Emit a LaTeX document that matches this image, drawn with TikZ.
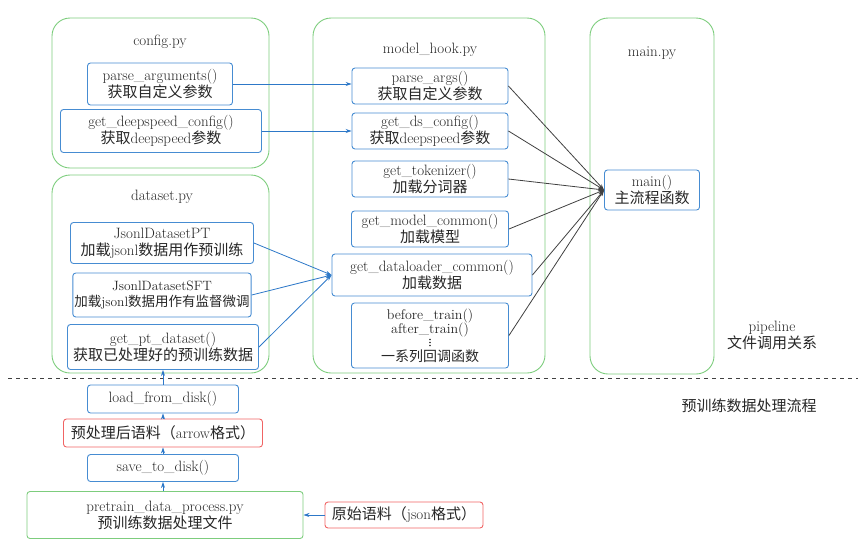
\documentclass[tikz,border=0pt]{standalone}
\usepackage{fontspec}
\newfontfamily\cjk{Noto Sans CJK SC}
\usetikzlibrary{arrows.meta}
\newcommand{\zh}[1]{{\cjk #1}}
\definecolor{filegreen}{RGB}{125,205,125}
\definecolor{funcblue}{RGB}{70,140,210}
\definecolor{datared}{RGB}{240,100,100}
\definecolor{arrowblue}{RGB}{45,120,200}

\begin{document}
\begin{tikzpicture}[x=1pt,y=-1pt,
  every node/.style = {align=center, text=black!85,
    font=\fontsize{15}{17}\selectfont, inner sep=1.5pt},
  filebox/.style = {shape=rectangle, rounded corners=18pt,
    draw=filegreen, line width=0.9pt},
  funcbox/.style = {shape=rectangle, rounded corners=3pt,
    draw=funcblue, line width=0.9pt},
  databox/.style = {shape=rectangle, rounded corners=3pt,
    draw=datared, line width=0.9pt},
  procbox/.style = {shape=rectangle, rounded corners=3pt,
    draw=filegreen, line width=0.9pt},
  bluearrow/.style = {draw=arrowblue, line width=0.8pt,
    -{Stealth[length=6pt,width=4pt]}},
  grayarrow/.style = {draw=black!75, line width=0.8pt,
    -{Stealth[length=6pt,width=4pt]}}]
  \useasboundingbox (0,0) rectangle (866,547);

  % file containers
  \node[filebox, minimum width=217, minimum height=150] (config) at (160.5,93) {};
  \node[filebox, minimum width=217, minimum height=198] (dataset) at (160.5,274) {};
  \node[filebox, minimum width=232, minimum height=355] (modelhook) at (429,195.5) {};
  \node[filebox, minimum width=124, minimum height=356] (mainfile) at (652,196) {};
  \node (configTitle) at (160,42) {config.py};
  \node (datasetTitle) at (162,197) {dataset.py};
  \node (modelhookTitle) at (430,50) {model\_hook.py};
  \node (mainTitle) at (652,53) {main.py};

  % config.py
  \node[funcbox, minimum width=145, minimum height=42] (parseArguments) at (160,84)
    {parse\_arguments()\\\zh{获取自定义参数}};
  \node[funcbox, minimum width=201, minimum height=43] (getDeepspeedConfig) at (161,131)
    {get\_deepspeed\_config()\\\zh{获取}deepspeed\zh{参数}};

  % dataset.py
  \node[funcbox, minimum width=183, minimum height=41] (jsonlPT) at (162,243)
    {JsonlDatasetPT\\\zh{加载}jsonl\zh{数据用作预训练}};
  \node[funcbox, minimum width=172, minimum height=44,
    font=\fontsize{13.5}{16}\selectfont] (jsonlSFT) at (162,295)
    {JsonlDatasetSFT\\\zh{加载}jsonl\zh{数据用作有监督微调}};
  \node[funcbox, minimum width=191, minimum height=45] (getPtDataset) at (163,347)
    {get\_pt\_dataset()\\\zh{获取已处理好的预训练数据}};

  % model_hook.py
  \node[funcbox, minimum width=156, minimum height=36] (parseArgs) at (430,86)
    {parse\_args()\\\zh{获取自定义参数}};
  \node[funcbox, minimum width=156, minimum height=36] (getDsConfig) at (430,131)
    {get\_ds\_config()\\\zh{获取}deepspeed\zh{参数}};
  \node[funcbox, minimum width=156, minimum height=36] (getTokenizer) at (430,179)
    {get\_tokenizer()\\\zh{加载分词器}};
  \node[funcbox, minimum width=157, minimum height=36] (getModelCommon) at (430,229)
    {get\_model\_common()\\\zh{加载模型}};
  \node[funcbox, minimum width=200, minimum height=42] (getDataloader) at (432,275)
    {get\_dataloader\_common()\\\zh{加载数据}};
  \node[funcbox, minimum width=157, minimum height=65,
    font=\fontsize{14}{14.5}\selectfont] (trainHooks) at (430,335.5)
    {before\_train()\\after\_train()\\[11pt]\zh{一系列回调函数}};
  \foreach \dy in {4,7,10}
    \fill[black!85] ([yshift=-\dy pt]trainHooks.center) circle (0.9pt);

  % main.py
  \node[funcbox, minimum width=95, minimum height=40] (mainFunc) at (652,190)
    {main()\\\zh{主流程函数}};
  \node (pipelineLabel) at (772,335) {pipeline\\\zh{文件调用关系}};

  % split line
  \coordinate (splitL) at (8,378);
  \coordinate (splitR) at (858,378);
  \draw[black!75, line width=0.8pt, dash pattern=on 4pt off 4pt] (splitL) -- (splitR);

  % preprocessing flow
  \node[funcbox, minimum width=151, minimum height=28] (loadFromDisk) at (163,399)
    {load\_from\_disk()};
  \node[databox, minimum width=199, minimum height=28] (arrowCorpus) at (163,433)
    {\zh{预处理后语料（}arrow\zh{格式）}};
  \node[funcbox, minimum width=151, minimum height=27] (saveToDisk) at (163,468)
    {save\_to\_disk()};
  \node[procbox, minimum width=276, minimum height=47] (pretrainProc) at (165,515)
    {pretrain\_data\_process.py\\\zh{预训练数据处理文件}};
  \node[databox, minimum width=158, minimum height=26] (jsonCorpus) at (404,515)
    {\zh{原始语料（}json\zh{格式）}};
  \node (flowLabel) at (749,406) {\zh{预训练数据处理流程}};

  % calls
  \draw[bluearrow] (parseArguments.east) -- (parseArguments.east -| parseArgs.west);
  \draw[bluearrow] (getDeepspeedConfig.east) -- (getDsConfig.west);
  \draw[bluearrow] (jsonlPT.east) -- (getDataloader.west);
  \draw[bluearrow] (jsonlSFT.east) -- (getDataloader.west);
  \draw[bluearrow] (getPtDataset.east) -- (getDataloader.west);
  \draw[grayarrow] (parseArgs.east) -- (mainFunc.west);
  \draw[grayarrow] (getDsConfig.east) -- (mainFunc.west);
  \draw[grayarrow] (getTokenizer.east) -- (mainFunc.west);
  \draw[grayarrow] (getModelCommon.east) -- (mainFunc.west);
  \draw[grayarrow] (getDataloader.east) -- (mainFunc.west);
  \draw[grayarrow] (trainHooks.east) -- (mainFunc.west);
  \draw[bluearrow] (jsonCorpus.west) -- (pretrainProc.east);
  \draw[bluearrow] (pretrainProc.north -| saveToDisk.south) -- (saveToDisk.south);
  \draw[bluearrow] (saveToDisk) -- (arrowCorpus);
  \draw[bluearrow] (arrowCorpus) -- (loadFromDisk);
  \draw[bluearrow] (loadFromDisk) -- (getPtDataset);
\end{tikzpicture}
\end{document}
